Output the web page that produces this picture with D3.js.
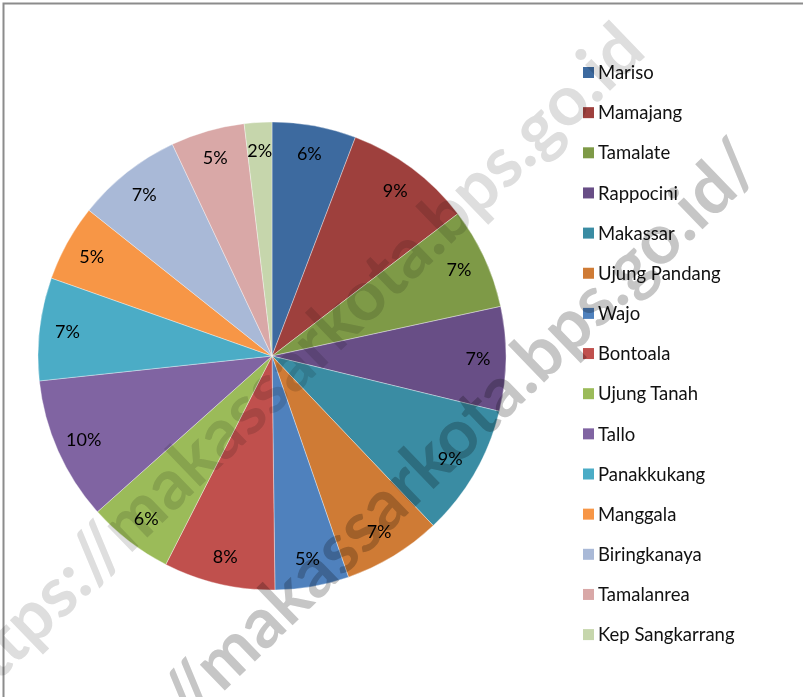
<!DOCTYPE html>
<html>
<head>
<meta charset="utf-8">
<script src="https://cdn.jsdelivr.net/npm/d3@7"></script>
<style>
  body { margin: 0; background: #fff; }
  svg { display: block; }
</style>
</head>
<body>
<svg id="chart" width="803" height="697"></svg>
<script>
// kecamatan of Makassar, share in percent
const districts = ["Mariso", "Mamajang", "Tamalate", "Rappocini", "Makassar", "Ujung Pandang", "Wajo",
    "Bontoala", "Ujung Tanah", "Tallo", "Panakkukang", "Manggala", "Biringkanaya", "Tamalanrea", "Kep Sangkarrang"];
const shares = [5.8, 8.8, 7.0, 7.2, 9.1, 6.8, 5.1, 7.7, 5.9, 9.9, 7.1, 5.3, 7.3, 5.1, 1.9];
const colors = ["#3d6a9f", "#9e403d", "#7e9a47", "#684e86", "#3a8ca3", "#cf7b35", "#4f81bd",
    "#c0504d", "#9bbb59", "#8064a2", "#4bacc6", "#f79646", "#a9b9d7", "#d9a8a7", "#c6d6ac"];
const watermark = "https://makassarkota.bps.go.id/";

const data = districts.map((d, i) => ({ name: d, value: shares[i] }));
const total = d3.sum(shares);

const svg = d3.select("#chart");
const cx = 272, cy = 356, radius = 234;
const font = "Lato, 'Open Sans', sans-serif";

// outer frame (only top/left visible in the crop)
svg.append("rect")
    .attr("x", 3.5).attr("y", 3.5)
    .attr("width", 840).attr("height", 740)
    .attr("fill", "none")
    .attr("stroke", "#8c8c8c")
    .attr("stroke-width", 2);

const pie = d3.pie().value(d => d.value).sort(null);
const arc = d3.arc().innerRadius(0).outerRadius(radius);
const labelArc = d3.arc().innerRadius(206).outerRadius(206);

const g = svg.append("g").attr("transform", `translate(${cx},${cy})`);
const arcs = pie(data);

g.selectAll("path.slice")
    .data(arcs)
    .enter().append("path")
    .attr("class", "slice")
    .attr("d", arc)
    .attr("fill", (d, i) => colors[i])
    .attr("stroke", "#ffffff")
    .attr("stroke-opacity", 0.6)
    .attr("stroke-width", 0.6);

g.selectAll("text.pct")
    .data(arcs)
    .enter().append("text")
    .attr("class", "pct")
    .attr("transform", d => `translate(${labelArc.centroid(d)})`)
    .attr("text-anchor", "middle")
    .attr("dy", "0.35em")
    .style("font-family", font)
    .style("font-size", "18px")
    .attr("fill", "#000")
    .text(d => Math.round(d.data.value / total * 100) + "%");

// legend
const legend = svg.append("g").attr("transform", "translate(583,67)");
const row = legend.selectAll("g")
    .data(districts)
    .enter().append("g")
    .attr("transform", (d, i) => `translate(0,${i * 40.15})`);
row.append("rect")
    .attr("width", 11).attr("height", 11)
    .attr("fill", (d, i) => colors[i]);
row.append("text")
    .attr("x", 15)
    .attr("y", 5.5)
    .attr("dy", "0.36em")
    .style("font-family", font)
    .style("font-size", "18.5px")
    .attr("fill", "#111")
    .text(d => d);

// watermark lines
const marks = [
    { text: watermark.slice(0, -1), x: 648, y: 54, fill: "#dedede" },
    { text: watermark, x: 764, y: 170, fill: "#c6c6c6" }
];
svg.selectAll("text.wm")
    .data(marks)
    .enter().append("text")
    .attr("class", "wm")
    .attr("transform", d => `translate(${d.x},${d.y}) rotate(-44)`)
    .attr("text-anchor", "end")
    .style("font-family", font)
    .style("font-size", "70px")
    .style("font-weight", "bold")
    .style("mix-blend-mode", "multiply")
    .attr("fill", d => d.fill)
    .text(d => d.text);
</script>
</body>
</html>
